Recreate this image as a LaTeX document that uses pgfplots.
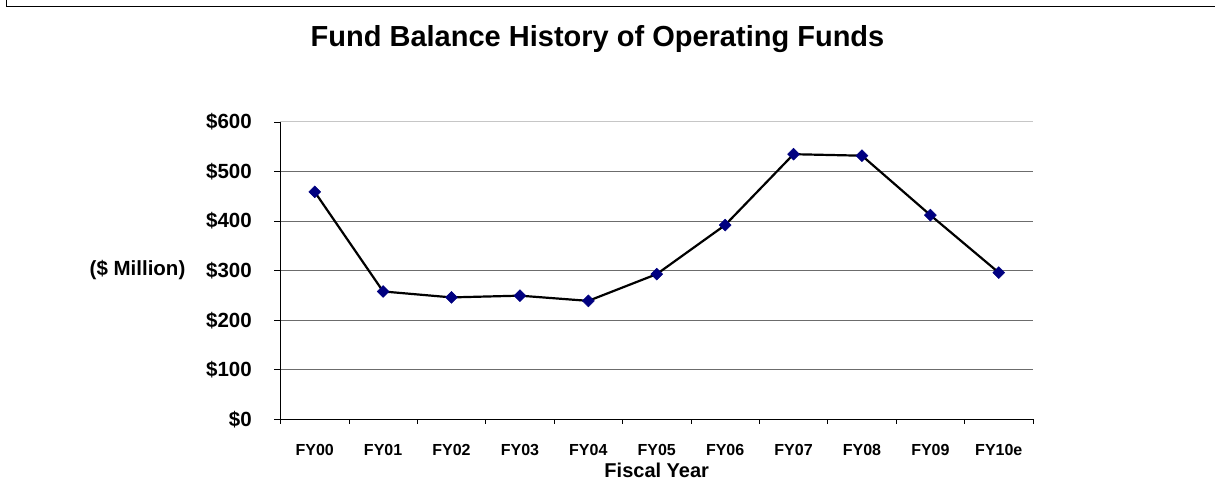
\documentclass[border=0pt]{standalone}
\usepackage{pgfplots}
\pgfplotsset{compat=1.18}
\usepackage{fontspec}
\setmainfont{Liberation Sans}
\definecolor{navy}{HTML}{000080}
\begin{document}
\begin{tikzpicture}[x=1pt,y=1pt]
\useasboundingbox (0,0) rectangle (1215,489);
\draw[line width=1.7pt,black] (6.4,489) -- (6.4,482.5) -- (1215,482.5);
\node[font=\fontsize{29}{32}\selectfont\bfseries, anchor=base] at (597.5,442) {Fund Balance History of Operating Funds};
\begin{axis}[
  at={(314.7pt,69.7pt)}, anchor=origin,
  scale only axis, width=752.5pt, height=297.3pt,
  xmin=-0.5, xmax=10.5, ymin=0, ymax=600,
  axis x line=bottom, axis y line=left,
  axis line style={-, black, line width=1pt},
  xtick={0,...,10},
  xticklabels={FY00,FY01,FY02,FY03,FY04,FY05,FY06,FY07,FY08,FY09,FY10e},
  major x tick style={draw=none},
  minor xtick={-0.5,0.5,...,10.5},
  minor x tick style={black, line width=0.8pt},
  minor tick length=4.5pt,
  xtick align=outside, ytick align=outside,
  ytick={0,100,...,500},
  yticklabels={\$0,\$100,\$200,\$300,\$400,\$500},
  extra y ticks={600},
  extra y tick labels={\$600},
  extra y tick style={grid style={gray!45, line width=1pt}},
  major tick length=6pt,
  y tick style={black, line width=0.8pt},
  ymajorgrids,
  grid style={gray!85!black, line width=0.9pt},
  xticklabel style={font=\fontsize{16}{18}\selectfont\bfseries, anchor=base, yshift=-30pt},
  yticklabel shift=22.5pt,
  yticklabel style={font=\fontsize{20.5}{22}\selectfont\bfseries, anchor=east, inner sep=0pt},
  xlabel={Fiscal Year},
  xlabel style={font=\fontsize{20}{22}\selectfont\bfseries, at={(axis description cs:0.5,-0.197)}, anchor=base},
  ylabel={(\$ Million)},
  ylabel style={font=\fontsize{20.5}{22}\selectfont\bfseries, rotate=-90, at={(axis description cs:-0.19,0.502)}, anchor=center},
  clip=false,
]
\addplot[black, line width=2.2pt, mark=square*, mark size=4.2pt,
  mark options={rotate=45, fill=navy, draw=navy, line width=0.5pt}]
  coordinates {(0,459) (1,258) (2,246) (3,249.5) (4,239) (5,293) (6,392) (7,535) (8,532) (9,412) (10,296)};
\end{axis}
\end{tikzpicture}
\end{document}
